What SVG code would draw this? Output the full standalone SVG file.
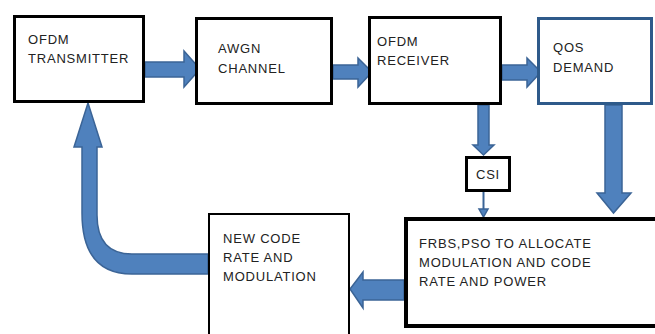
<svg xmlns="http://www.w3.org/2000/svg" width="655" height="334" viewBox="0 0 655 334">
  <style>
    .box { fill: #ffffff; stroke: #000000; stroke-width: 3; }
    .qos { fill: #ffffff; stroke: #2E5A8A; stroke-width: 3; }
    .arrow { fill: #4F81BD; stroke: #3B6496; stroke-width: 1.5; stroke-linejoin: miter; }
    .label { font-family: "Liberation Sans", Arial, sans-serif; font-size: 13px; letter-spacing: 0.8px; fill: #222222; }
  </style>
  <rect width="655" height="334" fill="#ffffff"/>

  <!-- connectors -->
  <g id="connectors">
    <polygon class="arrow" points="145,62 184,62 184,51 200,69 184,87 184,77 145,77"/>
    <polygon class="arrow" points="333,65 358,65 358,58 372,72 358,87 358,79 333,79"/>
    <polygon class="arrow" points="502,65 527,65 527,58 541,72 527,87 527,80 502,80"/>
    <polygon class="arrow" points="478,105 489,105 489,145 494,145 483.5,155 473,145 478,145"/>
    <line x1="483.5" y1="192" x2="483.5" y2="210" stroke="#3B6496" stroke-width="2"/>
    <polygon class="arrow" points="479,209 488,209 483.5,217"/>
    <polygon class="arrow" points="605,105 622,105 622,193 631,193 613.5,213 597,193 605,193"/>
    <polygon class="arrow" points="404,280 363,280 363,272 350,289 363,308 363,300 404,300"/>
    <path class="arrow" d="M208,254 L132,254 Q97,254 97,215 L97,147 L102,147 L88,103 L74,147 L82,147 L82,213 Q82,274 132,274 L208,274 Z"/>
  </g>

  <g id="ofdm-transmitter">
    <rect class="box" x="14.5" y="16.5" width="129" height="85"/>
    <text class="label" x="28" y="44">OFDM</text>
    <text class="label" x="28" y="63">TRANSMITTER</text>
  </g>

  <g id="awgn-channel">
    <rect class="box" x="196.5" y="18.5" width="135" height="85"/>
    <text class="label" x="218" y="53">AWGN</text>
    <text class="label" x="218" y="73">CHANNEL</text>
  </g>

  <g id="ofdm-receiver">
    <rect class="box" x="369.5" y="17.5" width="131" height="86"/>
    <text class="label" x="377" y="46">OFDM</text>
    <text class="label" x="377" y="65">RECEIVER</text>
  </g>

  <g id="qos-demand">
    <rect class="qos" x="538.5" y="18.5" width="113" height="85"/>
    <text class="label" x="553" y="52">QOS</text>
    <text class="label" x="553" y="72">DEMAND</text>
  </g>

  <g id="csi">
    <rect class="box" x="466.5" y="157.5" width="43" height="33"/>
    <text class="label" x="488" y="179" text-anchor="middle">CSI</text>
  </g>

  <g id="new-code-rate">
    <rect x="209" y="214" width="140" height="130" fill="#ffffff" stroke="#000000" stroke-width="2"/>
    <text class="label" x="223" y="243">NEW CODE</text>
    <text class="label" x="223" y="262">RATE AND</text>
    <text class="label" x="223" y="281">MODULATION</text>
  </g>

  <g id="frbs-pso">
    <rect x="406" y="219" width="260" height="107" fill="#ffffff" stroke="#000000" stroke-width="4"/>
    <text class="label" x="419" y="248">FRBS,PSO TO ALLOCATE</text>
    <text class="label" x="419" y="267">MODULATION AND CODE</text>
    <text class="label" x="419" y="286">RATE AND POWER</text>
  </g>
</svg>
